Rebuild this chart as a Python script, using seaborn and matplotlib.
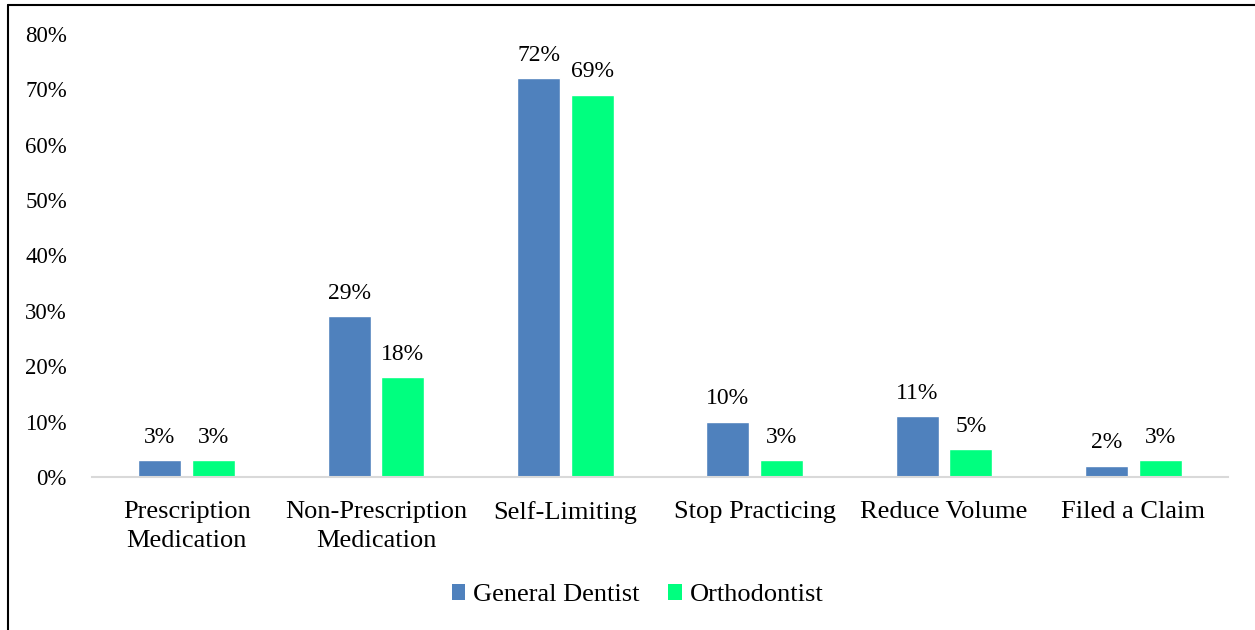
import matplotlib
matplotlib.use("Agg")
import matplotlib.pyplot as plt
import seaborn as sns
import pandas as pd
from matplotlib.lines import Line2D
from matplotlib.patches import Patch

categories = ["Prescription\nMedication", "Non-Prescription\nMedication", "Self-Limiting",
              "Stop Practicing", "Reduce Volume", "Filed a Claim"]
general_dentist = [3, 29, 72, 10, 11, 2]
orthodontist = [3, 18, 69, 3, 5, 3]
series_names = ["General Dentist", "Orthodontist"]
colors = ["#4F81BD", "#00FF7F"]
y_ticks = [0, 10, 20, 30, 40, 50, 60, 70, 80]

df = pd.DataFrame({
    "category": categories * 2,
    "value": general_dentist + orthodontist,
    "series": [series_names[0]] * len(categories) + [series_names[1]] * len(categories),
})

sns.set_theme(style="white")
plt.rcParams['font.family'] = ['Liberation Serif', 'DejaVu Serif']
plt.rcParams['text.color'] = 'black'
plt.rcParams['xtick.color'] = 'black'
plt.rcParams['ytick.color'] = 'black'
plt.rcParams['axes.labelcolor'] = 'black'

fig = plt.figure(figsize=(12.55, 6.3), dpi=100)
ax = fig.add_axes([0.0733, 0.2429, 0.9052, 0.7031])

sns.barplot(data=df, x="category", y="value", hue="series", palette=colors,
            width=0.566, gap=0.2, ax=ax, legend=False, saturation=1, errorbar=None)

ax.set_ylim(0, 80)
ax.set_xlim(-0.5, len(categories) - 0.5)
ax.set_yticks(y_ticks)
ax.set_yticklabels([f"{t}%" for t in y_ticks], fontsize=16.5, color="black")
ax.tick_params(axis="x", labelsize=19, length=0, pad=17, labelcolor="black")
ax.tick_params(axis="y", length=0, pad=18, labelcolor="black")
for lbl in ax.get_xticklabels():
    lbl.set_linespacing(1.45)
ax.set_xlabel("")
ax.set_ylabel("")
for s in ["top", "right", "left"]:
    ax.spines[s].set_visible(False)
ax.spines["bottom"].set_color("#D9D9D9")
ax.spines["bottom"].set_linewidth(1.5)

for cont in ax.containers:
    ax.bar_label(cont, labels=[f"{v:.0f}%" for v in cont.datavalues], padding=9,
                 fontsize=17, color="black")

handles = [Patch(facecolor=c, edgecolor="none") for c in colors]
fig.legend(handles, series_names, loc="center", bbox_to_anchor=(0.508, 0.055), ncol=2,
           frameon=False, fontsize=19, handlelength=0.5, handleheight=0.5,
           handletextpad=0.3, columnspacing=1.1, labelcolor="black")

fig.add_artist(Line2D([8/1255, 1], [1 - 5/630, 1 - 5/630], color="black", linewidth=1.5, transform=fig.transFigure))
fig.add_artist(Line2D([8/1255, 8/1255], [0, 1 - 5/630], color="black", linewidth=1.5, transform=fig.transFigure))

fig.savefig("out.png", dpi=100)
